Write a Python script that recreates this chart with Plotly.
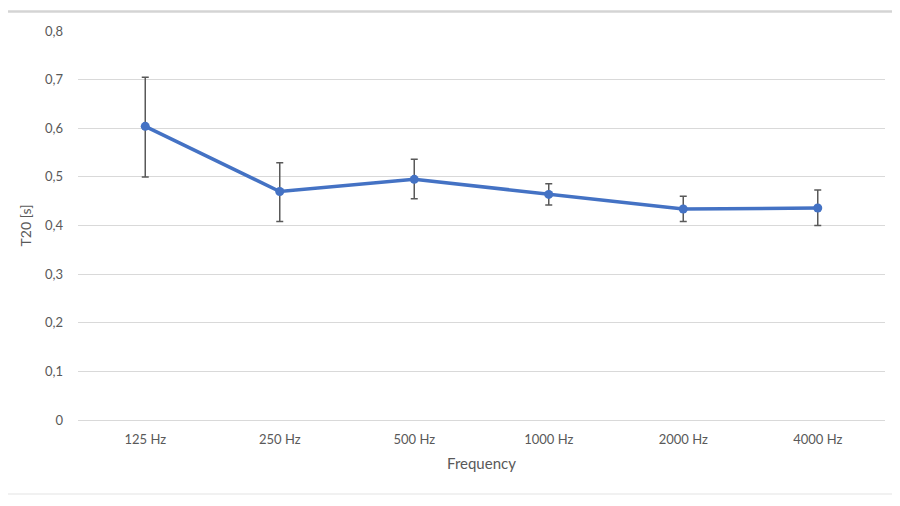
import plotly.graph_objects as go

categories = ["125 Hz", "250 Hz", "500 Hz", "1000 Hz", "2000 Hz", "4000 Hz"]
t20 = [0.604, 0.470, 0.495, 0.464, 0.434, 0.436]
err_plus = [0.101, 0.059, 0.041, 0.022, 0.026, 0.037]
err_minus = [0.104, 0.062, 0.040, 0.022, 0.026, 0.036]
y_ticks = [0, 0.1, 0.2, 0.3, 0.4, 0.5, 0.6, 0.7, 0.8]
y_tick_labels = ["0", "0,1", "0,2", "0,3", "0,4", "0,5", "0,6", "0,7", "0,8"]

font_family = "Lato, 'Open Sans', sans-serif"
text_gray = "#595959"

# plot area in figure px (page has 8px body offset)
L, R, T, B = 70, 23, 23, 94
PW, PH = 900 - L - R, 506 - T - B

fig = go.Figure()
fig.add_trace(go.Scatter(
    x=categories, y=t20, mode="lines+markers",
    line=dict(color="#4472C4", width=3.5),
    marker=dict(color="#4472C4", size=9),
    error_y=dict(type="data", symmetric=False, array=err_plus, arrayminus=err_minus,
                 color="#595959", thickness=1.5, width=3.5),
    showlegend=False,
))

fig.update_layout(
    width=900, height=506,
    margin=dict(l=L, r=R, t=T, b=B),
    paper_bgcolor="white", plot_bgcolor="white",
    font=dict(family=font_family, color=text_gray, size=13),
    xaxis=dict(
        type="category", range=[-0.5, 5.5],
        showgrid=False, zeroline=False, showline=False,
        ticks="", ticklabelstandoff=10,
        tickfont=dict(size=13, color=text_gray),
        title=dict(text="Frequency", font=dict(size=15, color=text_gray), standoff=12),
    ),
    yaxis=dict(
        range=[0, 0.8], tickvals=y_ticks, ticktext=y_tick_labels,
        showgrid=True, gridcolor="#d9d9d9", gridwidth=1,
        zeroline=True, zerolinecolor="#d9d9d9", zerolinewidth=1,
        showline=False, ticks="", ticklabelstandoff=14,
        tickfont=dict(size=13, color=text_gray),
        title=dict(text="T20 [s]", font=dict(size=14, color=text_gray), standoff=10),
    ),
    shapes=[
        dict(type="line", xref="paper", yref="paper", x0=-L / PW, x1=1 + R / PW,
             y0=1 + (T - 3.5) / PH, y1=1 + (T - 3.5) / PH,
             line=dict(color="#d4d4d4", width=2.5)),
        dict(type="line", xref="paper", yref="paper", x0=-L / PW, x1=1 + R / PW,
             y0=-(B - 20) / PH, y1=-(B - 20) / PH,
             line=dict(color="#e3e3e3", width=1)),
    ],
)

fig.write_html("out.html")
